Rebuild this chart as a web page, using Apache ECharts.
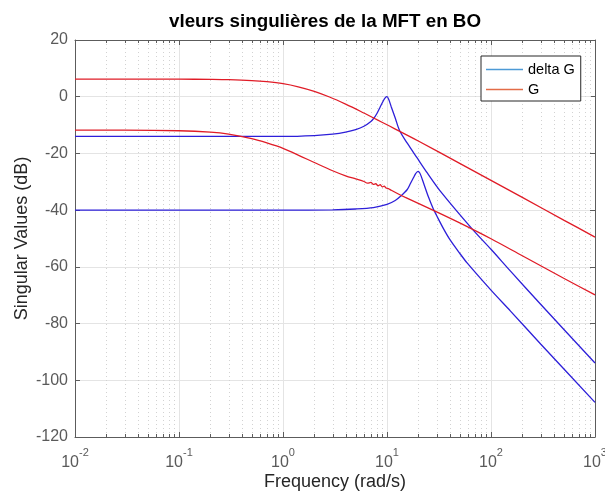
<!DOCTYPE html>
<html>
<head>
<meta charset="utf-8">
<script src="https://cdn.jsdelivr.net/npm/echarts@6/dist/echarts.min.js"></script>
<style>
html, body { margin: 0; padding: 0; background: #fff; }
#sv-chart { width: 605px; height: 493px; }
</style>
</head>
<body>
<div id="sv-chart"></div>
<script>
var svchart = echarts.init(document.getElementById('sv-chart'));

// G : valeurs singulieres (rouge)
var g1Freq = [0.01, 0.03, 0.1, 0.2, 0.3, 0.5, 0.7, 1, 1.4, 2, 2.8, 4, 5.6, 8, 10, 20, 50, 100, 200, 500, 1000];
var g1Db   = [6.2, 6.2, 6.2, 6.1, 6.0, 5.7, 5.3, 4.6, 3.5, 1.9, -0.1, -2.6, -5.2, -8.1, -9.9, -15.6, -23.5, -29.5, -35.5, -43.5, -49.5];
var g2Freq = [0.01, 0.03, 0.1, 0.2, 0.3, 0.5, 0.7, 1, 1.5, 2, 3, 4, 5, 6, 6.5, 7, 7.4, 7.8, 8.2, 8.6, 9, 9.4, 9.8, 10.3, 11, 13, 15, 20, 30, 50, 100, 200, 500, 1000];
var g2Db   = [-11.8, -11.8, -12.0, -12.5, -13.2, -14.8, -16.3, -18.2, -21.1, -23.2, -26.1, -27.9, -29.0, -29.9, -30.5, -30.2, -30.9, -30.7, -31.4, -31.0, -31.8, -31.5, -32.2, -32.4, -33.0, -34.4, -35.5, -37.6, -40.6, -44.5, -50.1, -56.1, -64.0, -69.9];

// delta G : valeurs singulieres (bleu)
var dg1Freq = [0.01, 0.1, 1, 2, 3, 4, 5, 6, 7, 7.5, 8, 8.6, 9.2, 9.6, 10, 10.4, 11, 12, 13.2, 15.6, 19.5, 24.4, 32.4, 65.8, 100, 154, 300, 1000];
var dg1Db   = [-14.0, -14.0, -14.0, -13.7, -13.2, -12.5, -11.6, -10.4, -8.7, -7.5, -5.9, -3.6, -1.5, -0.4, 0, -1.0, -3.6, -7.5, -11.9, -16.3, -21.6, -26.9, -33.2, -46.6, -53.8, -61.5, -73.2, -93.9];
var dg2Freq = [0.01, 0.1, 1, 3, 5, 7.4, 10, 12, 13.4, 15.6, 16.8, 18, 18.8, 19.5, 20, 20.6, 21.3, 22.5, 25, 27.9, 30, 35, 40.6, 50, 58.9, 100, 154, 300, 1000];
var dg2Db   = [-40.0, -40.0, -40.0, -39.9, -39.6, -39.1, -38.0, -36.6, -35.2, -32.8, -30.6, -28.5, -27.2, -26.5, -26.3, -26.8, -28.0, -30.5, -35.3, -39.6, -41.9, -46.6, -50.6, -55.2, -58.6, -68.2, -75.6, -87.2, -107.8];

var yTicks = [-120, -100, -80, -60, -40, -20, 0, 20];
var decades = [0.01, 0.1, 1, 10, 100];
var minorMult = [2, 3, 4, 5, 6, 7, 8, 9];

var minorTicks = [];
decades.forEach(function (d) {
    minorMult.forEach(function (m) { minorTicks.push([d * m, 0]); });
});

function pairs(xs, ys) {
    return xs.map(function (x, i) { return [x, ys[i]]; });
}

var font = "'Liberation Sans', Arial, Helvetica, sans-serif";
var axisCol = '#5c5c5c';
var labelCol = '#5a5a5a';
var blue = '#2d1fd9';
var red = '#e01c27';
var yMin = yTicks[0], yMax = yTicks[yTicks.length - 1];

function curve(name, data, color) {
    return {
        name: name,
        type: 'line',
        data: data,
        showSymbol: false,
        smooth: 0.3,
        lineStyle: { color: color, width: 1.3 },
        itemStyle: { color: color },
        z: 5
    };
}

var svoption = {
    animation: false,
    title: {
        text: 'vleurs singulières de la MFT en BO',
        left: 320,
        top: 7,
        textAlign: 'center',
        textStyle: { fontFamily: font, fontSize: 18.8, fontWeight: 'bold', color: '#000' }
    },
    legend: {
        data: ['delta G', 'G'],
        orient: 'vertical',
        left: 481,
        top: 56,
        padding: [6, 6, 4, 5],
        itemGap: 5,
        itemWidth: 37,
        itemHeight: 1.5,
        icon: 'rect',
        backgroundColor: '#fff',
        borderColor: '#262626',
        borderWidth: 1,
        textStyle: { fontFamily: font, fontSize: 14.5, color: '#000' }
    },
    grid: { left: 75, right: 10, top: 40, bottom: 56, containLabel: false, outerBoundsMode: 'none' },
    xAxis: [
        {
            type: 'log',
            logBase: 10,
            min: 0.01,
            max: 1000,
            name: 'Frequency (rad/s)',
            nameLocation: 'middle',
            nameGap: 36,
            nameMoveOverlap: false,
            nameTextStyle: { fontFamily: font, fontSize: 18, color: '#262626' },
            axisLine: { onZero: false, lineStyle: { color: axisCol } },
            axisTick: { inside: true, length: 5, lineStyle: { color: axisCol } },
            splitLine: { show: true, lineStyle: { color: '#e4e4e4' } },
            axisLabel: {
                margin: 10,
                formatter: function (v) {
                    var e = Math.round(Math.log10(v));
                    return '{b|10}{e|' + e + '}';
                },
                rich: {
                    b: { fontFamily: font, fontSize: 16, color: labelCol, verticalAlign: 'bottom', lineHeight: 24 },
                    e: { fontFamily: font, fontSize: 11, color: labelCol, verticalAlign: 'top', lineHeight: 14 }
                }
            }
        },
        {
            type: 'log',
            logBase: 10,
            min: 0.01,
            max: 1000,
            position: 'top',
            axisLine: { onZero: false, lineStyle: { color: axisCol } },
            axisTick: { inside: true, length: 5, lineStyle: { color: axisCol } },
            axisLabel: { show: false },
            splitLine: { show: false }
        }
    ],
    yAxis: [
        {
            type: 'value',
            min: yMin,
            max: yMax,
            interval: 20,
            name: 'Singular Values (dB)',
            nameLocation: 'middle',
            nameGap: 44,
            nameMoveOverlap: false,
            nameTextStyle: { fontFamily: font, fontSize: 18, color: '#262626' },
            axisLine: { show: true, onZero: false, lineStyle: { color: axisCol } },
            axisTick: { show: true, inside: true, length: 5, lineStyle: { color: axisCol } },
            splitLine: { show: true, lineStyle: { color: '#e4e4e4' } },
            axisLabel: { margin: 7, fontFamily: font, fontSize: 16, color: labelCol }
        },
        {
            type: 'value',
            min: yMin,
            max: yMax,
            interval: 20,
            position: 'right',
            axisLine: { show: true, onZero: false, lineStyle: { color: axisCol } },
            axisTick: { show: true, inside: true, length: 5, lineStyle: { color: axisCol } },
            axisLabel: { show: false },
            splitLine: { show: false }
        }
    ],
    series: [
        {
            name: 'minor',
            type: 'custom',
            silent: true,
            z: 1,
            data: minorTicks,
            renderItem: function (params, api) {
                var x = api.value(0);
                var top = api.coord([x, yMax]);
                var bot = api.coord([x, yMin]);
                var px = Math.round(top[0]) + 0.5;
                return {
                    type: 'group',
                    children: [
                        { type: 'line', shape: { x1: px, y1: top[1], x2: px, y2: bot[1] },
                          style: { stroke: '#d2d2d2', lineWidth: 1, lineDash: [1, 3] } },
                        { type: 'line', shape: { x1: px, y1: top[1], x2: px, y2: top[1] + 3 },
                          style: { stroke: axisCol, lineWidth: 1 } },
                        { type: 'line', shape: { x1: px, y1: bot[1], x2: px, y2: bot[1] - 3 },
                          style: { stroke: axisCol, lineWidth: 1 } }
                    ]
                };
            }
        },
        { name: 'delta G', type: 'line', data: [], color: '#4d9ad6' },
        { name: 'G', type: 'line', data: [], color: '#e36c47' },
        curve('dG sv1', pairs(dg1Freq, dg1Db), blue),
        curve('dG sv2', pairs(dg2Freq, dg2Db), blue),
        curve('G sv1', pairs(g1Freq, g1Db), red),
        curve('G sv2', pairs(g2Freq, g2Db), red)
    ]
};
svchart.setOption(svoption);
</script>
</body>
</html>
